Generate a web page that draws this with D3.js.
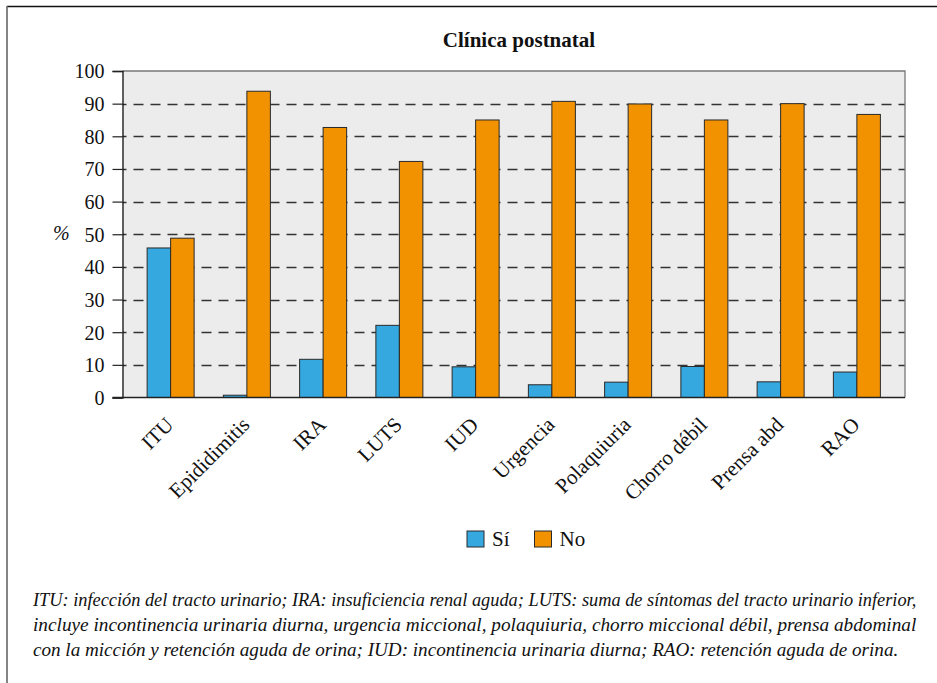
<!DOCTYPE html>
<html>
<head>
<meta charset="utf-8">
<script src="https://cdn.jsdelivr.net/npm/d3@7/dist/d3.min.js"></script>
<style>
  html, body { margin: 0; padding: 0; background: #fff; }
  svg text { font-family: "Liberation Serif", "Times New Roman", serif; }
</style>
</head>
<body>
<svg id="chart" width="937" height="683"></svg>
<script>
// Postnatal clinical findings, percentage of Sí / No per item
const categories = ["ITU", "Epididimitis", "IRA", "LUTS", "IUD", "Urgencia", "Polaquiuria", "Chorro débil", "Prensa abd", "RAO"];
const valuesSi = [45.8, 0.7, 11.7, 22.1, 9.4, 3.9, 4.7, 9.5, 4.8, 7.8];
const valuesNo = [48.8, 93.8, 82.7, 72.3, 85.0, 90.7, 89.9, 85.0, 90.0, 86.7];
const seriesNames = ["Sí", "No"];
const seriesColors = ["#35a8df", "#f39200"];
const yTicks = [0, 10, 20, 30, 40, 50, 60, 70, 80, 90, 100];
const title = "Clínica postnatal";
const footnoteLines = [
  "ITU: infección del tracto urinario; IRA: insuficiencia renal aguda; LUTS: suma de síntomas del tracto urinario inferior,",
  "incluye incontinencia urinaria diurna, urgencia miccional, polaquiuria, chorro miccional débil, prensa abdominal",
  "con la micción y retención aguda de orina; IUD: incontinencia urinaria diurna; RAO: retención aguda de orina."
];

const FONT = "Liberation Serif";
const svg = d3.select("#chart");

// outer frame (open on the right and bottom)
svg.append("line").attr("x1", 7).attr("x2", 937).attr("y1", 6.5).attr("y2", 6.5)
  .attr("stroke", "#111").attr("stroke-width", 1.5);
svg.append("line").attr("x1", 7).attr("x2", 7).attr("y1", 6).attr("y2", 683)
  .attr("stroke", "#666").attr("stroke-width", 1.6);

const plot = { left: 122.5, right: 905, top: 71, bottom: 397.5 };

const x = d3.scaleBand().domain(categories)
  .range([plot.left + 10, plot.right - 10])
  .paddingInner(0).paddingOuter(0);
const barW = 23.5;
const y = d3.scaleLinear().domain([0, 100]).range([plot.bottom, plot.top]);

// plot background
svg.append("rect")
  .attr("x", plot.left).attr("y", plot.top)
  .attr("width", plot.right - plot.left).attr("height", plot.bottom - plot.top)
  .attr("fill", "#ececec");

// dashed gridlines
svg.append("g").selectAll("line").data(yTicks.filter(d => d > 0 && d < 100)).join("line")
  .attr("x1", plot.left).attr("x2", plot.right)
  .attr("y1", d => Math.round(y(d)) + 0.5).attr("y2", d => Math.round(y(d)) + 0.5)
  .attr("stroke", "#333").attr("stroke-width", 1.3)
  .attr("stroke-dasharray", "10,7").attr("stroke-dashoffset", -11);

// top and right frame of plot
svg.append("path")
  .attr("d", `M${plot.left},${plot.top}H${plot.right}V${plot.bottom}`)
  .attr("fill", "none").attr("stroke", "#777").attr("stroke-width", 1.3);

// bars
const groups = svg.append("g").selectAll("g").data(categories).join("g");
groups.append("rect")
  .attr("x", (d) => x(d) + x.bandwidth() / 2 - barW)
  .attr("y", (d, i) => y(valuesSi[i]))
  .attr("width", barW)
  .attr("height", (d, i) => y(0) - y(valuesSi[i]))
  .attr("fill", seriesColors[0]).attr("stroke", "#2a2a2a").attr("stroke-width", 1);
groups.append("rect")
  .attr("x", (d) => x(d) + x.bandwidth() / 2)
  .attr("y", (d, i) => y(valuesNo[i]))
  .attr("width", barW)
  .attr("height", (d, i) => y(0) - y(valuesNo[i]))
  .attr("fill", seriesColors[1]).attr("stroke", "#2a2a2a").attr("stroke-width", 1);

// y axis
const yAxis = d3.axisLeft(y).tickValues(yTicks).tickSize(10).tickPadding(8);
const gy = svg.append("g").attr("transform", `translate(${plot.left},0)`).call(yAxis)
  .attr("font-family", FONT).attr("font-size", 20);
gy.select(".domain").attr("stroke", "#111").attr("stroke-width", 1.3);
gy.selectAll(".tick line").attr("stroke", "#222").attr("stroke-width", 1.2);
gy.selectAll(".tick text").attr("fill", "#111").attr("dy", "0.34em");

// bottom axis line
svg.append("line").attr("x1", plot.left - 10).attr("x2", plot.right)
  .attr("y1", plot.bottom).attr("y2", plot.bottom)
  .attr("stroke", "#222").attr("stroke-width", 1.3);

// y axis label
svg.append("text").attr("x", 53).attr("y", 240)
  .attr("font-family", FONT).attr("font-size", 20).attr("font-style", "italic")
  .attr("fill", "#111").text("%");

// category labels
svg.append("g").selectAll("text").data(categories).join("text")
  .attr("transform", d => `translate(${x(d) + x.bandwidth() / 2 + 4},${426}) rotate(-45)`)
  .attr("text-anchor", "end")
  .attr("font-family", FONT).attr("font-size", 21).attr("fill", "#111")
  .text(d => d);

// title
svg.append("text").attr("x", 519).attr("y", 47).attr("text-anchor", "middle")
  .attr("font-family", FONT).attr("font-size", 21).attr("font-weight", "bold")
  .attr("fill", "#111").text(title);

// legend
const legendX = [467, 534.5];
const legend = svg.append("g").selectAll("g").data(seriesNames).join("g")
  .attr("transform", (d, i) => `translate(${legendX[i]},531)`);
legend.append("rect").attr("width", 17).attr("height", 16)
  .attr("fill", (d, i) => seriesColors[i]).attr("stroke", "#2a2a2a").attr("stroke-width", 1);
legend.append("text").attr("x", 25).attr("y", 15)
  .attr("font-family", FONT).attr("font-size", 21).attr("fill", "#111")
  .text(d => d);

// footnote: italic lines, each scaled horizontally to its line width
const footWidths = [884, 884, 866];
svg.append("g").selectAll("text").data(footnoteLines).join("text")
  .attr("font-family", FONT).attr("font-size", 19).attr("font-style", "italic").attr("fill", "#111")
  .text(d => d)
  .each(function (d, i) {
    const k = footWidths[i] / this.getComputedTextLength();
    d3.select(this).attr("transform", `translate(33,${606 + i * 25}) scale(${k},1)`);
  });
</script>
</body>
</html>
